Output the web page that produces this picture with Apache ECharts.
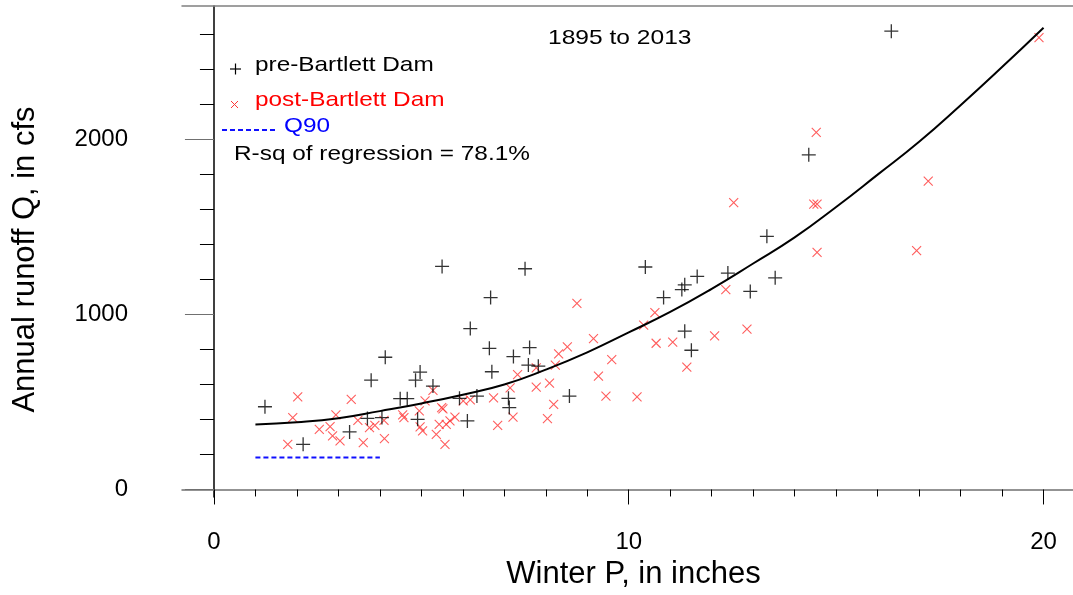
<!DOCTYPE html>
<html>
<head>
<meta charset="utf-8">
<script src="https://cdn.jsdelivr.net/npm/echarts@6/dist/echarts.min.js"></script>
<style>
  html, body { margin: 0; padding: 0; background: #fff; }
  #chart { width: 1073px; height: 595px; }
</style>
</head>
<body>
<div id="chart"></div>
<script>
// pre-Bartlett Dam years: winter precipitation (in) and annual runoff (cfs)
const preWinterP = [1.23, 2.15, 4.13, 3.79, 4.97, 4.86, 5.28, 4.49, 4.66, 3.27, 3.70, 4.05, 4.91, 5.92,
  6.11, 6.34, 6.18, 6.67, 6.64, 6.70, 7.22, 7.61, 7.58, 7.82, 7.10, 7.12, 8.57, 10.84, 11.28, 11.35,
  11.65, 11.35, 11.51, 10.40, 7.50, 5.50, 13.33, 13.53, 12.93, 12.39, 16.33, 14.34];
const preRunoff = [473, 258, 756, 625, 671, 625, 591, 519, 519, 329, 406, 411, 401, 521,
  392, 534, 920, 1097, 807, 673, 760, 811, 711, 705, 521, 468, 534, 1097, 1143, 1170,
  1218, 905, 796, 1272, 1262, 1275, 1447, 1210, 1132, 1237, 2620, 1913];

// post-Bartlett Dam years
const postWinterP = [2.02, 1.90, 1.78, 3.31, 2.94, 2.54, 2.80, 2.86, 3.04, 3.47, 3.60, 3.75, 3.88, 4.10,
  4.11, 4.55, 4.58, 4.95, 4.97, 5.03, 5.09, 5.28, 5.36, 5.49, 5.52, 5.43, 5.57, 5.60, 5.69, 5.81,
  6.01, 6.18, 8.75, 6.74, 6.84, 7.14, 7.32, 7.21, 7.77, 7.77, 8.09, 8.19, 8.04, 8.23, 8.31, 8.52,
  9.15, 9.27, 9.59, 9.45, 10.20, 10.36, 10.63, 10.66, 11.06, 11.40, 12.07, 12.53, 14.46, 14.54,
  14.54, 12.34, 12.85, 14.52, 17.22, 16.94, 19.89];
const postRunoff = [530, 411, 258, 515, 426, 344, 359, 306, 278, 395, 268, 354, 367, 395,
  291, 426, 411, 449, 358, 335, 506, 566, 315, 468, 461, 372, 258, 372, 392, 414,
  506, 512, 1064, 524, 367, 581, 657, 414, 695, 585, 608, 486, 405, 711, 775, 815,
  862, 648, 742, 534, 529, 940, 1011, 836, 842, 700, 878, 1640, 1631, 1631,
  1356, 1143, 917, 2042, 1763, 1365, 2583];

// regression curve
const curveP = [1, 2, 3, 4, 5, 6, 7, 8, 9, 10, 11, 12, 13, 14, 15, 16, 17, 18, 19, 20];
const curveQ = [372, 384, 407, 448, 492, 542, 600, 685, 784, 898, 1015, 1147, 1292, 1441, 1615, 1800, 1988, 2197, 2415, 2640];

// Q90 flow line
const q90P = [1, 4];
const q90Q = [183, 183];

// axis ticks
const xMajor = [0, 10, 20];
const xMinor = [1, 2, 3, 4, 5, 6, 7, 8, 9, 11, 12, 13, 14, 15, 16, 17, 18, 19];
const yMajor = [0, 1000, 2000];
const yMinor = [200, 400, 600, 800, 1200, 1400, 1600, 1800, 2200, 2400, 2600];

const zip = (a, b) => a.map((v, i) => [v, b[i]]);

const FONT = "'Liberation Sans', Arial, sans-serif";
const X_MIN = -0.77, X_MAX = 20.71;
const Y_MIN = -43, Y_MAX = 2764;

const myChart = echarts.init(document.getElementById('chart'));

const option = {
  animation: false,
  backgroundColor: '#fff',
  textStyle: { fontFamily: FONT },
  grid: { left: 182, top: 6, right: 0, bottom: 95 },
  xAxis: [
    {
      type: 'value',
      position: 'bottom',
      min: X_MIN,
      max: X_MAX,
      name: 'Winter P, in inches',
      nameLocation: 'middle',
      nameGap: 62,
      nameTextStyle: { fontSize: 31, color: '#000', fontFamily: FONT, padding: [0, 0, 0, 12] },
      axisLine: { show: true, lineStyle: { color: '#707070', width: 1.5 } },
      axisTick: { show: true, customValues: xMinor, length: 7, lineStyle: { color: '#000' } },
      axisLabel: { customValues: xMajor, fontSize: 24, color: '#000', margin: 33, fontFamily: FONT,
        formatter: v => String(v) },
      splitLine: { show: false },
    },
    {
      type: 'value',
      position: 'bottom',
      min: X_MIN,
      max: X_MAX,
      axisLine: { show: false },
      axisTick: { show: true, customValues: xMajor, length: 15, lineStyle: { color: '#000' } },
      axisLabel: { show: false },
      splitLine: { show: false },
    },
    {
      type: 'value',
      position: 'top',
      min: X_MIN,
      max: X_MAX,
      axisLine: { show: true, lineStyle: { color: '#808080', width: 1.5 } },
      axisTick: { show: false },
      axisLabel: { show: false },
      splitLine: { show: false },
    },
  ],
  yAxis: [
    {
      type: 'value',
      position: 'left',
      min: Y_MIN,
      max: Y_MAX,
      name: 'Annual runoff Q, in cfs',
      nameLocation: 'middle',
      nameGap: 141,
      nameTextStyle: { fontSize: 31, color: '#000', fontFamily: FONT, padding: [0, 16, 0, 0] },
      axisLine: { show: true, lineStyle: { color: '#000', width: 1.5 } },
      axisTick: { show: true, customValues: yMinor, length: 14, lineStyle: { color: '#000' } },
      axisLabel: { customValues: yMajor, fontSize: 24, color: '#000', margin: 54, fontFamily: FONT,
        formatter: v => String(v) },
      splitLine: { show: false },
    },
    {
      type: 'value',
      position: 'left',
      min: Y_MIN,
      max: Y_MAX,
      axisLine: { show: false },
      axisTick: { show: true, customValues: yMajor, length: 29, lineStyle: { color: '#707070' } },
      axisLabel: { show: false },
      splitLine: { show: false },
    },
  ],
  series: [
    {
      name: 'regression',
      type: 'line',
      smooth: true,
      showSymbol: false,
      data: zip(curveP, curveQ),
      lineStyle: { color: '#000', width: 2 },
      z: 3,
    },
    {
      name: 'Q90',
      type: 'line',
      showSymbol: false,
      data: zip(q90P, q90Q),
      lineStyle: { color: '#1010ff', width: 2, type: [5, 3] },
    },
    {
      name: 'post-Bartlett Dam',
      type: 'scatter',
      symbol: 'path://M0,0L9,9M9,0L0,9',
      symbolSize: 9,
      data: zip(postWinterP, postRunoff),
      itemStyle: { color: 'rgba(0,0,0,0)', borderColor: '#ff3535', borderWidth: 1.1 },
    },
    {
      name: 'pre-Bartlett Dam',
      type: 'scatter',
      symbol: 'path://M0,7L14,7M7,0L7,14',
      symbolSize: 14,
      data: zip(preWinterP, preRunoff),
      itemStyle: { color: 'rgba(0,0,0,0)', borderColor: '#000', borderWidth: 1.3 },
    },
  ],
  graphic: [
    { type: 'text', x: 548, y: 38, scaleX: 1.17,
      style: { text: '1895 to 2013', font: '21px ' + FONT, fill: '#000', textVerticalAlign: 'middle' } },
    // legend keys
    { type: 'line', shape: { x1: 230, y1: 69, x2: 241, y2: 69 }, style: { stroke: '#000', lineWidth: 1.2 } },
    { type: 'line', shape: { x1: 235.5, y1: 63.5, x2: 235.5, y2: 74.5 }, style: { stroke: '#000', lineWidth: 1.2 } },
    { type: 'line', shape: { x1: 231, y1: 101, x2: 238, y2: 108 }, style: { stroke: '#ff3535', lineWidth: 1 } },
    { type: 'line', shape: { x1: 238, y1: 101, x2: 231, y2: 108 }, style: { stroke: '#ff3535', lineWidth: 1 } },
    { type: 'line', shape: { x1: 222, y1: 130, x2: 275, y2: 130 }, style: { stroke: '#1010ff', lineWidth: 2, lineDash: [5, 3] } },
    { type: 'text', x: 255, y: 65, scaleX: 1.16,
      style: { text: 'pre-Bartlett Dam', font: '21px ' + FONT, fill: '#000', textVerticalAlign: 'middle' } },
    { type: 'text', x: 255, y: 100, scaleX: 1.16,
      style: { text: 'post-Bartlett Dam', font: '21px ' + FONT, fill: '#ff0000', textVerticalAlign: 'middle' } },
    { type: 'text', x: 284, y: 126, scaleX: 1.16,
      style: { text: 'Q90', font: '21px ' + FONT, fill: '#0000ff', textVerticalAlign: 'middle' } },
    { type: 'text', x: 234, y: 154, scaleX: 1.16,
      style: { text: 'R-sq of regression = 78.1%', font: '21px ' + FONT, fill: '#000', textVerticalAlign: 'middle' } },
  ],
};

myChart.setOption(option);
</script>
</body>
</html>
